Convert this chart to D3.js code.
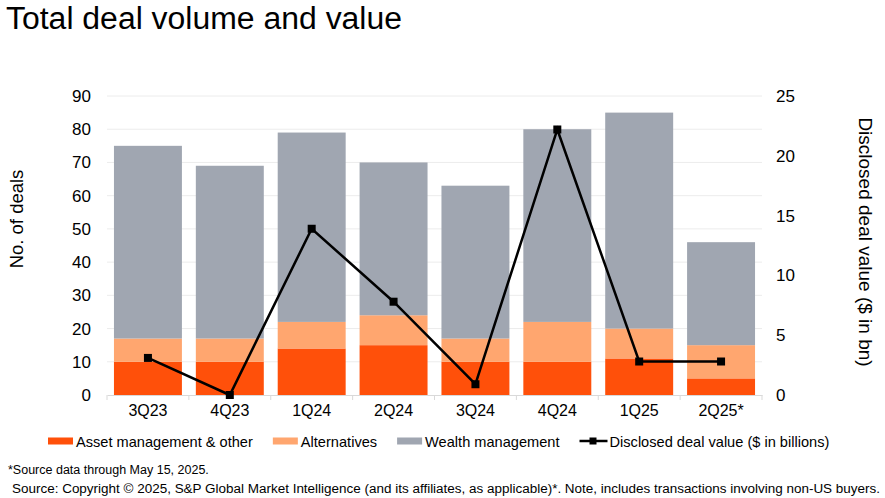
<!DOCTYPE html>
<html>
<head>
<meta charset="utf-8">
<script src="https://cdn.jsdelivr.net/npm/d3@7"></script>
<style>
  body { margin: 0; background: #fff; }
  svg { font-family: "Liberation Sans", Arial, sans-serif; }
</style>
</head>
<body>
<div id="chart"></div>
<script>
// Chart data
const quarters = ["3Q23", "4Q23", "1Q24", "2Q24", "3Q24", "4Q24", "1Q25", "2Q25*"];
const assetMgmt = [10, 10, 14, 15, 10, 10, 11, 5];
const alternatives = [7, 7, 8, 9, 7, 12, 9, 10];
const wealthMgmt = [58, 52, 57, 46, 46, 58, 65, 31];
const dealValue = [3.1, 0, 13.9, 7.8, 0.9, 22.2, 2.8, 2.8];
const leftTicks = [0, 10, 20, 30, 40, 50, 60, 70, 80, 90];
const rightTicks = [0, 5, 10, 15, 20, 25];

const seriesNames = ["Asset management & other", "Alternatives", "Wealth management"];
const colors = ["#FF500A", "#FFA66F", "#A0A6B1"];

const W = 885, H = 498;
const plot = { left: 107, right: 762, top: 96, bottom: 395 };

const svg = d3.select("#chart").append("svg").attr("width", W).attr("height", H);

// Title
svg.append("text")
  .attr("x", 6).attr("y", 29)
  .style("font-size", "31px")
  .attr("textLength", 396)
  .attr("lengthAdjust", "spacingAndGlyphs")
  .text("Total deal volume and value");

// Scales
const x = d3.scaleBand().domain(quarters).range([plot.left, plot.right]).paddingInner(0.17).paddingOuter(0.085);
const xCat = d3.scaleBand().domain(quarters).range([plot.left, plot.right]);
const y = d3.scaleLinear().domain([0, 90]).range([plot.bottom, plot.top]);
const y2 = d3.scaleLinear().domain([0, 25]).range([plot.bottom, plot.top]);

// Gridlines
svg.append("g")
  .selectAll("line")
  .data(leftTicks.slice(1))
  .enter()
  .append("line")
  .attr("x1", plot.left).attr("x2", plot.right)
  .attr("y1", (d) => y(d)).attr("y2", (d) => y(d))
  .attr("stroke", "#ececec").attr("stroke-width", 1);

// Stacked bars
const rows = quarters.map((q, i) => ({ q: q, a: assetMgmt[i], b: alternatives[i], c: wealthMgmt[i] }));
const stack = d3.stack().keys(["a", "b", "c"])(rows);
svg.append("g")
  .selectAll("g")
  .data(stack)
  .enter()
  .append("g")
  .attr("fill", (d, i) => colors[i])
  .selectAll("rect")
  .data((d) => d)
  .enter()
  .append("rect")
  .attr("x", (d) => x(d.data.q))
  .attr("y", (d) => y(d[1]))
  .attr("width", x.bandwidth())
  .attr("height", (d) => y(d[0]) - y(d[1]));

// X axis
const xAxis = svg.append("g")
  .attr("transform", `translate(0, ${plot.bottom})`)
  .call(d3.axisBottom(xCat).tickSize(0).tickPadding(10));
xAxis.select(".domain").attr("stroke", "#d9d9d9");
xAxis.selectAll("text").style("font-size", "16px").style("fill", "#000").attr("font-family", null);
svg.append("g")
  .selectAll("line")
  .data(d3.range(quarters.length + 1))
  .enter()
  .append("line")
  .attr("x1", (d) => plot.left + d * xCat.step()).attr("x2", (d) => plot.left + d * xCat.step())
  .attr("y1", plot.bottom).attr("y2", plot.bottom + 5)
  .attr("stroke", "#d9d9d9");

// Left axis
const yAxis = svg.append("g")
  .attr("transform", `translate(${plot.left}, 0)`)
  .call(d3.axisLeft(y).tickValues(leftTicks).tickSize(0).tickPadding(16));
yAxis.select(".domain").remove();
yAxis.selectAll("text").style("font-size", "17px").style("fill", "#000").attr("font-family", null);

// Right axis
const y2Axis = svg.append("g")
  .attr("transform", `translate(${plot.right}, 0)`)
  .call(d3.axisRight(y2).tickValues(rightTicks).tickSize(0).tickPadding(14));
y2Axis.select(".domain").remove();
y2Axis.selectAll("text").style("font-size", "17px").style("fill", "#000").attr("font-family", null);

// Axis titles
svg.append("text")
  .attr("transform", `translate(23, 219) rotate(-90)`)
  .attr("text-anchor", "middle")
  .style("font-size", "18.5px")
  .text("No. of deals");
svg.append("text")
  .attr("transform", `translate(859, 242) rotate(90)`)
  .attr("text-anchor", "middle")
  .style("font-size", "19px")
  .text("Disclosed deal value ($ in bn)");

// Line for disclosed deal value
const line = d3.line()
  .x((d, i) => xCat(quarters[i]) + xCat.bandwidth() / 2)
  .y((d) => y2(d));
svg.append("path")
  .datum(dealValue)
  .attr("fill", "none")
  .attr("stroke", "#000")
  .attr("stroke-width", 2.5)
  .attr("d", line);
svg.append("g")
  .selectAll("rect")
  .data(dealValue)
  .enter()
  .append("rect")
  .attr("x", (d, i) => xCat(quarters[i]) + xCat.bandwidth() / 2 - 4)
  .attr("y", (d) => y2(d) - 4)
  .attr("width", 8).attr("height", 8)
  .attr("fill", "#000");

// Legend
const legend = svg.append("g").style("font-size", "14.6px");
const legendY = 441;
let cursor = 48;
seriesNames.forEach((name, i) => {
  legend.append("rect")
    .attr("x", cursor).attr("y", legendY - 3.5)
    .attr("width", 25).attr("height", 7)
    .attr("fill", colors[i]);
  const t = legend.append("text")
    .attr("x", cursor + 28).attr("y", legendY + 5.5)
    .text(name);
  cursor += 28 + t.node().getComputedTextLength() + 20;
});
legend.append("line")
  .attr("x1", cursor).attr("x2", cursor + 28)
  .attr("y1", legendY).attr("y2", legendY)
  .attr("stroke", "#000").attr("stroke-width", 2.5);
legend.append("rect")
  .attr("x", cursor + 10).attr("y", legendY - 3.5)
  .attr("width", 7).attr("height", 7).attr("fill", "#000");
legend.append("text")
  .attr("x", cursor + 30).attr("y", legendY + 5.5)
  .text("Disclosed deal value ($ in billions)");

// Footnotes
svg.append("text")
  .attr("x", 8).attr("y", 474)
  .style("font-size", "12.5px")
  .text("*Source data through May 15, 2025.");
svg.append("text")
  .attr("x", 12).attr("y", 493)
  .style("font-size", "12.5px")
  .attr("textLength", 868)
  .attr("lengthAdjust", "spacingAndGlyphs")
  .text("Source: Copyright © 2025, S&P Global Market Intelligence (and its affiliates, as applicable)*. Note, includes transactions involving non-US buyers.");
</script>
</body>
</html>
